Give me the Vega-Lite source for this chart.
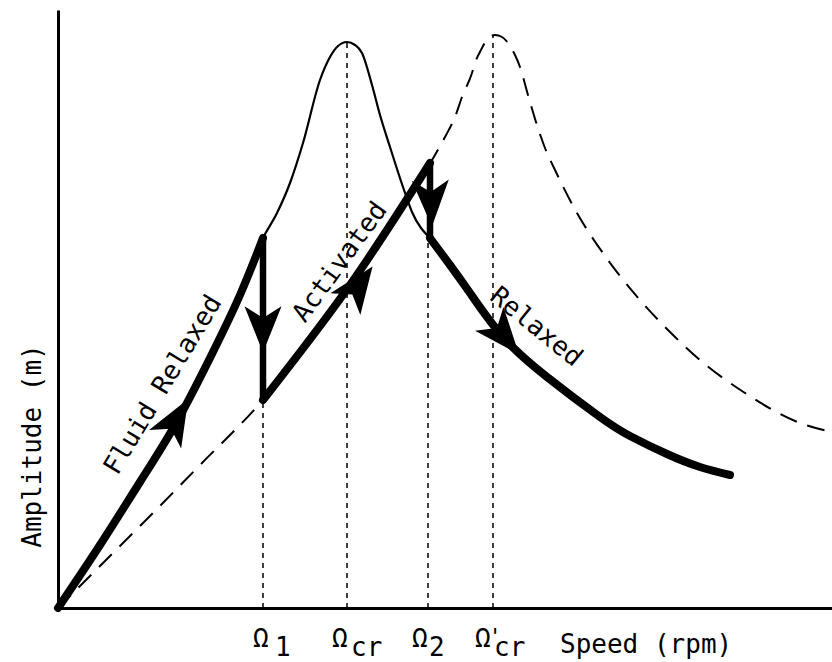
{
  "$schema": "https://vega.github.io/schema/vega-lite/v6.json",
  "width": 774,
  "height": 598,
  "autosize": {"type": "none"},
  "padding": {"left": 58, "top": 10, "right": 0, "bottom": 54},
  "config": {
    "view": {"stroke": null},
    "axis": {"domainColor": "black", "domainWidth": 3, "ticks": false, "labels": false, "grid": false},
    "text": {"font": "DejaVu Sans Mono", "fontSize": 26, "color": "black"}
  },
  "datasets": {
    "thin": [
      {"x": 0, "y": 0}, {"x": 42, "y": 63}, {"x": 82, "y": 126}, {"x": 117, "y": 183},
      {"x": 152, "y": 250}, {"x": 182, "y": 313}, {"x": 205, "y": 370}, {"x": 219, "y": 395},
      {"x": 232, "y": 425}, {"x": 245, "y": 465}, {"x": 262, "y": 528}, {"x": 272, "y": 551},
      {"x": 280, "y": 562}, {"x": 289, "y": 566}, {"x": 297, "y": 563}, {"x": 304, "y": 555},
      {"x": 314, "y": 523}, {"x": 322, "y": 493}, {"x": 332, "y": 461}, {"x": 345, "y": 421},
      {"x": 354, "y": 396}, {"x": 372, "y": 370}
    ],
    "dashed": [
      {"x": 0, "y": 0}, {"x": 42, "y": 42}, {"x": 92, "y": 92}, {"x": 142, "y": 143},
      {"x": 205, "y": 208}, {"x": 292, "y": 323}, {"x": 342, "y": 396}, {"x": 377, "y": 453},
      {"x": 387, "y": 471}, {"x": 397, "y": 491}, {"x": 404, "y": 511}, {"x": 414, "y": 535},
      {"x": 417, "y": 545}, {"x": 424, "y": 560}, {"x": 430, "y": 570}, {"x": 437, "y": 573},
      {"x": 444, "y": 571}, {"x": 450, "y": 565}, {"x": 457, "y": 553}, {"x": 462, "y": 541},
      {"x": 470, "y": 513}, {"x": 478, "y": 486}, {"x": 487, "y": 460}, {"x": 497, "y": 438},
      {"x": 519, "y": 395}, {"x": 547, "y": 352}, {"x": 582, "y": 308}, {"x": 612, "y": 276},
      {"x": 642, "y": 248}, {"x": 687, "y": 215}, {"x": 742, "y": 185}, {"x": 774, "y": 176}
    ],
    "thick": [
      {"seg": "fluid", "x": 0, "y": 0}, {"seg": "fluid", "x": 42, "y": 63}, {"seg": "fluid", "x": 82, "y": 126},
      {"seg": "fluid", "x": 117, "y": 183}, {"seg": "fluid", "x": 152, "y": 250}, {"seg": "fluid", "x": 182, "y": 313},
      {"seg": "fluid", "x": 205, "y": 370},
      {"seg": "activated", "x": 205, "y": 208}, {"seg": "activated", "x": 292, "y": 323}, {"seg": "activated", "x": 372, "y": 445},
      {"seg": "relaxed", "x": 372, "y": 370}, {"seg": "relaxed", "x": 392, "y": 343}, {"seg": "relaxed", "x": 412, "y": 315},
      {"seg": "relaxed", "x": 445, "y": 271}, {"seg": "relaxed", "x": 489, "y": 231}, {"seg": "relaxed", "x": 542, "y": 191},
      {"seg": "relaxed", "x": 572, "y": 172}, {"seg": "relaxed", "x": 609, "y": 154}, {"seg": "relaxed", "x": 642, "y": 141},
      {"seg": "relaxed", "x": 672, "y": 133}
    ],
    "drops": [
      {"x": 205, "y": 370, "y2": 208},
      {"x": 372, "y": 445, "y2": 370}
    ],
    "arrows": [
      {"x": 117, "y": 186, "heading": 30},
      {"x": 205, "y": 282, "heading": 180},
      {"x": 299, "y": 320, "heading": 36},
      {"x": 373, "y": 408, "heading": 178},
      {"x": 444, "y": 274, "heading": 140}
    ],
    "guides": [
      {"x": 205, "top": 208, "base": 0},
      {"x": 289, "top": 566, "base": 0},
      {"x": 370, "top": 368, "base": 0},
      {"x": 435, "top": 573, "base": 0}
    ],
    "omega": [
      {"x": 195, "xs": 217, "y": -39, "ys": -48, "sym": "Ω", "sub": "1"},
      {"x": 274, "xs": 293, "y": -39, "ys": -48, "sym": "Ω", "sub": "cr"},
      {"x": 354, "xs": 371, "y": -39, "ys": -48, "sym": "Ω", "sub": "2"},
      {"x": 417, "xs": 436, "y": -39, "ys": -48, "sym": "Ω", "sub": "cr"}
    ],
    "primes": [
      {"x": 437, "y": -36, "label": "'"}
    ],
    "curvelabels": [
      {"x": 105, "y": 223, "label": "Fluid Relaxed", "rot": -59},
      {"x": 282, "y": 346, "label": "Activated", "rot": -54},
      {"x": 478, "y": 281, "label": "Relaxed", "rot": 39}
    ],
    "axislabels": [
      {"x": 502, "y": -45, "label": "Speed (rpm)"}
    ],
    "ylabel": [
      {"x": -17, "y": 162, "label": "Amplitude (m)"}
    ]
  },
  "layer": [
    {
      "data": {"name": "guides"},
      "mark": {"type": "rule", "color": "black", "strokeWidth": 1.5, "strokeDash": [5, 5]},
      "encoding": {
        "x": {"field": "x", "type": "quantitative", "scale": {"domain": [0, 774], "nice": false}, "title": null},
        "y": {"field": "base", "type": "quantitative", "scale": {"domain": [0, 598], "nice": false}, "title": null},
        "y2": {"field": "top"}
      }
    },
    {
      "data": {"name": "dashed"},
      "mark": {"type": "line", "color": "black", "strokeWidth": 2, "strokeDash": [18, 11], "interpolate": "monotone"},
      "encoding": {
        "x": {"field": "x", "type": "quantitative", "title": null},
        "y": {"field": "y", "type": "quantitative", "title": null}
      }
    },
    {
      "data": {"name": "thin"},
      "mark": {"type": "line", "color": "black", "strokeWidth": 2.2, "interpolate": "monotone"},
      "encoding": {
        "x": {"field": "x", "type": "quantitative", "title": null},
        "y": {"field": "y", "type": "quantitative", "title": null}
      }
    },
    {
      "data": {"name": "thick"},
      "mark": {"type": "line", "color": "black", "strokeWidth": 8, "strokeCap": "round", "strokeJoin": "round", "interpolate": "natural"},
      "encoding": {
        "x": {"field": "x", "type": "quantitative", "title": null},
        "y": {"field": "y", "type": "quantitative", "title": null},
        "detail": {"field": "seg", "type": "nominal"}
      }
    },
    {
      "data": {"name": "drops"},
      "mark": {"type": "rule", "color": "black", "strokeWidth": 6.5, "strokeCap": "round"},
      "encoding": {
        "x": {"field": "x", "type": "quantitative", "title": null},
        "y": {"field": "y", "type": "quantitative", "title": null},
        "y2": {"field": "y2"}
      }
    },
    {
      "data": {"name": "arrows"},
      "mark": {"type": "point", "filled": true, "color": "black", "opacity": 1, "size": 2800, "shape": "M0,-1 L0.7,0.75 L0,0.3 L-0.7,0.75 Z"},
      "encoding": {
        "x": {"field": "x", "type": "quantitative", "title": null},
        "y": {"field": "y", "type": "quantitative", "title": null},
        "angle": {"field": "heading", "type": "quantitative", "scale": null}
      }
    },
    {
      "data": {"name": "curvelabels"},
      "mark": {"type": "text", "align": "center", "baseline": "middle"},
      "encoding": {
        "x": {"field": "x", "type": "quantitative", "title": null},
        "y": {"field": "y", "type": "quantitative", "title": null},
        "text": {"field": "label", "type": "nominal"},
        "angle": {"field": "rot", "type": "quantitative", "scale": null}
      }
    },
    {
      "data": {"name": "omega"},
      "mark": {"type": "text", "align": "left", "baseline": "alphabetic"},
      "encoding": {
        "x": {"field": "x", "type": "quantitative", "title": null},
        "y": {"field": "y", "type": "quantitative", "title": null},
        "text": {"field": "sym", "type": "nominal"}
      }
    },
    {
      "data": {"name": "omega"},
      "mark": {"type": "text", "align": "left", "baseline": "alphabetic"},
      "encoding": {
        "x": {"field": "xs", "type": "quantitative", "title": null},
        "y": {"field": "ys", "type": "quantitative", "title": null},
        "text": {"field": "sub", "type": "nominal"}
      }
    },
    {
      "data": {"name": "primes"},
      "mark": {"type": "text", "align": "center", "baseline": "alphabetic", "fontSize": 22},
      "encoding": {
        "x": {"field": "x", "type": "quantitative", "title": null},
        "y": {"field": "y", "type": "quantitative", "title": null},
        "text": {"field": "label", "type": "nominal"}
      }
    },
    {
      "data": {"name": "axislabels"},
      "mark": {"type": "text", "align": "left", "baseline": "alphabetic"},
      "encoding": {
        "x": {"field": "x", "type": "quantitative", "title": null},
        "y": {"field": "y", "type": "quantitative", "title": null},
        "text": {"field": "label", "type": "nominal"}
      }
    },
    {
      "data": {"name": "ylabel"},
      "mark": {"type": "text", "align": "center", "baseline": "alphabetic", "angle": 270},
      "encoding": {
        "x": {"field": "x", "type": "quantitative", "title": null},
        "y": {"field": "y", "type": "quantitative", "title": null},
        "text": {"field": "label", "type": "nominal"}
      }
    }
  ]
}
